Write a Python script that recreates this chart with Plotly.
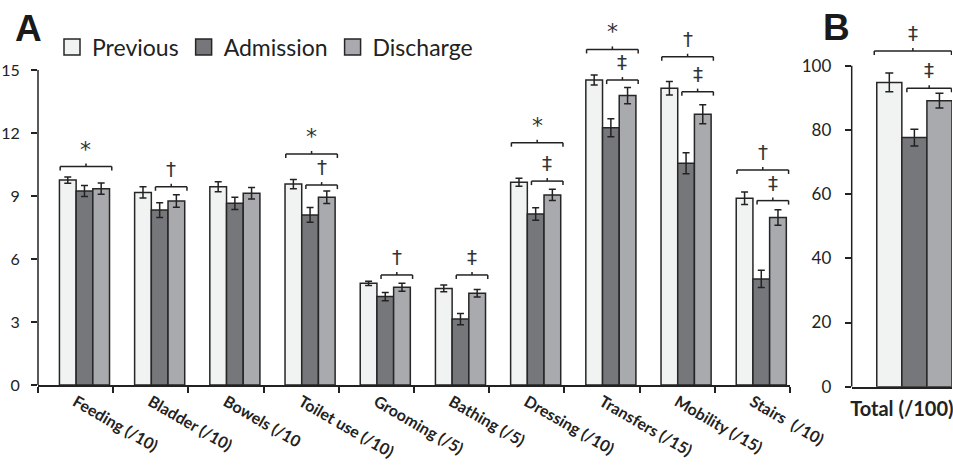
import plotly.graph_objects as go

# ---------------- data ----------------
categories = ["Feeding (/10)", "Bladder (/10)", "Bowels (/10", "Toilet use (/10)", "Grooming (/5)",
              "Bathing (/5)", "Dressing (/10)", "Transfers (/15)", "Mobility (/15)", "Stairs\u00a0 (/10)"]
previous = [9.76, 9.17, 9.44, 9.57, 4.84, 4.60, 9.65, 14.52, 14.13, 8.89]
previous_err = [0.15, 0.27, 0.24, 0.22, 0.10, 0.16, 0.19, 0.24, 0.32, 0.30]
admission = [9.24, 8.33, 8.65, 8.10, 4.21, 3.14, 8.14, 12.25, 10.56, 5.05]
admission_err = [0.26, 0.35, 0.29, 0.35, 0.20, 0.27, 0.30, 0.43, 0.50, 0.41]
discharge = [9.35, 8.76, 9.13, 8.94, 4.65, 4.37, 9.05, 13.78, 12.89, 7.98]
discharge_err = [0.27, 0.30, 0.27, 0.30, 0.19, 0.18, 0.27, 0.39, 0.45, 0.37]

total_cat = ["Total (/100)"]
total_previous = [94.8]
total_previous_err = [2.9]
total_admission = [77.6]
total_admission_err = [2.6]
total_discharge = [89.1]
total_discharge_err = [2.3]

# significance brackets (panel A)
sig_cat = [0, 1, 3, 3, 4, 5, 6, 6, 7, 7, 8, 8, 9, 9]
sig_kind = ["outer", "inner", "outer", "inner", "inner", "inner", "outer", "inner",
            "outer", "inner", "outer", "inner", "outer", "inner"]
sig_level = [10.40, 9.44, 11.0, 9.52, 5.24, 5.24, 11.54, 9.71, 15.98, 14.52, 15.63, 13.97, 10.24, 8.78]
sig_symbol = ["*", "†", "*", "†", "†", "‡", "*", "‡", "*", "‡", "†", "‡", "†", "‡"]
# significance brackets (panel B)
sigB_kind = ["outer", "inner"]
sigB_level = [104.6, 93.0]
sigB_symbol = ["‡", "‡"]

series_names = ["Previous", "Admission", "Discharge"]
colors = ["#f1f3f2", "#76777b", "#a9aaae"]
edge = "#262626"

# ---------------- geometry / style ----------------
W, H = 953, 465
A_x0, A_x1 = 38, 790
A_y0px, A_pxu = 385, 21.0        # pixel of zero, pixels per unit
A_top = 17
B_x0, B_x1 = 851.7, 952
B_y0px, B_pxu = 386.7, 3.21
B_top = 110

A_w = 0.222
A_off = [-0.215, 0.007, 0.229]
B_w = 0.25
B_off = [-0.25, 0.0, 0.25]

FONT = "Lato, 'Open Sans', sans-serif"

fig = go.Figure()

A_vals = [(previous, previous_err), (admission, admission_err), (discharge, discharge_err)]
B_vals = [(total_previous, total_previous_err), (total_admission, total_admission_err),
          (total_discharge, total_discharge_err)]

for i in range(3):
    vals, errs = A_vals[i]
    fig.add_trace(go.Bar(
        x=categories, y=vals, name=series_names[i], showlegend=False,
        width=A_w, offset=A_off[i],
        marker=dict(color=colors[i], line=dict(color=edge, width=1.5)),
        error_y=dict(type="data", array=errs, color="#222", thickness=1.5, width=3.5),
        xaxis="x", yaxis="y"))
    vals, errs = B_vals[i]
    fig.add_trace(go.Bar(
        x=total_cat, y=vals, name=series_names[i], showlegend=False,
        width=B_w, offset=B_off[i],
        marker=dict(color=colors[i], line=dict(color=edge, width=1.5)),
        error_y=dict(type="data", array=errs, color="#222", thickness=1.5, width=4),
        xaxis="x2", yaxis="y2"))

# legend entries
for i in range(3):
    fig.add_trace(go.Scatter(
        x=[None], y=[None], mode="markers", name=series_names[i],
        marker=dict(symbol="square", size=16, color=colors[i], line=dict(color=edge, width=1.5)),
        xaxis="x", yaxis="y"))

shapes = []
annotations = []


def bracket(xref, yref, xa, xb, level, down, up, symbol, size, yshift):
    xm = (xa + xb) / 2
    ln = dict(color="#222", width=1.5)
    shapes.append(dict(type="line", xref=xref, yref=yref, x0=xa, x1=xb, y0=level, y1=level, line=ln))
    shapes.append(dict(type="line", xref=xref, yref=yref, x0=xa, x1=xa, y0=level, y1=level - down, line=ln))
    shapes.append(dict(type="line", xref=xref, yref=yref, x0=xb, x1=xb, y0=level, y1=level - down, line=ln))
    shapes.append(dict(type="line", xref=xref, yref=yref, x0=xm, x1=xm, y0=level, y1=level + up, line=ln))
    annotations.append(dict(xref=xref, yref=yref, x=xm, y=level + up, text=symbol, showarrow=False,
                            xanchor="center", yanchor="bottom", yshift=yshift,
                            font=dict(family="DejaVu Sans, " + FONT, size=size, color="#333")))


for c, k, lv, s in zip(sig_cat, sig_kind, sig_level, sig_symbol):
    xa = c + (A_off[0] + 0.01 if k == "outer" else A_off[1] + 0.055)
    xb = c + A_off[2] + A_w + 0.03
    if s == "*":
        bracket("x", "y", xa, xb, lv, 4 / A_pxu, 3 / A_pxu, s, 22, 0)
    else:
        bracket("x", "y", xa, xb, lv, 4 / A_pxu, 3 / A_pxu, s, 20, 1)

for k, lv, s in zip(sigB_kind, sigB_level, sigB_symbol):
    xa = (B_off[0] - 0.025) if k == "outer" else (B_off[1] + 0.05)
    xb = B_off[2] + B_w - 0.005
    bracket("x2", "y2", xa, xb, lv, 4 / B_pxu, 3 / B_pxu, s, 20, 1)

# y axis lines (stop at top tick)
shapes.append(dict(type="line", xref="x domain", yref="y", x0=0, x1=0, y0=0, y1=15,
                   line=dict(color="#222", width=1.5)))
shapes.append(dict(type="line", xref="x2 domain", yref="y2", x0=0, x1=0, y0=0, y1=100,
                   line=dict(color="#222", width=1.5)))

# panel letters
annotations.append(dict(xref="paper", yref="paper", x=13 / W, y=1 - 28.5 / H, text="<b>A</b>",
                        showarrow=False, xanchor="left", yanchor="middle",
                        font=dict(family="Liberation Sans, Arial", size=37, color="#1a1a1a")))
annotations.append(dict(xref="paper", yref="paper", x=821 / W, y=1 - 28 / H, text="<b>B</b>",
                        showarrow=False, xanchor="left", yanchor="middle",
                        font=dict(family="Liberation Sans, Arial", size=37, color="#1a1a1a")))

fig.update_layout(
    width=W, height=H, autosize=False,
    margin=dict(l=0, r=0, t=0, b=0, pad=0, autoexpand=False),
    paper_bgcolor="white", plot_bgcolor="white",
    barmode="overlay",
    font=dict(family=FONT, color="#222"),
    showlegend=True,
    legend=dict(orientation="h", x=52 / W, y=1 - 47 / H, xanchor="left", yanchor="middle",
                font=dict(family=FONT, size=23, color="#222"), bgcolor="rgba(0,0,0,0)",
                itemclick=False, tracegroupgap=0),
    xaxis=dict(domain=[A_x0 / W, A_x1 / W], type="category", categoryorder="array",
               categoryarray=categories, range=[-0.5, 9.5], anchor="y", automargin=False,
               showline=True, linecolor="#222", linewidth=1.5, showgrid=False,
               ticks="outside", tickson="boundaries", ticklen=6, tickcolor="#222", tickwidth=1.5,
               tickangle=30, tickfont=dict(family=FONT, size=16, color="#222", weight="bold")),
    yaxis=dict(domain=[1 - A_y0px / H, 1 - (A_y0px - A_top * A_pxu) / H], range=[0, A_top],
               anchor="x", automargin=False, tickvals=[0, 3, 6, 9, 12, 15], ticks="outside", ticklen=6,
               tickcolor="#222", tickwidth=1.5, showline=False, showgrid=False, zeroline=False,
               ticklabelstandoff=8, tickfont=dict(family=FONT, size=16, color="#222")),
    xaxis2=dict(domain=[B_x0 / W, B_x1 / W], type="category", range=[-0.5, 0.5], anchor="y2",
                automargin=False, ticklabelstandoff=4,
                showline=True, linecolor="#222", linewidth=1.5, showgrid=False, ticks="",
                tickangle=0, tickfont=dict(family=FONT, size=20, color="#222", weight="bold")),
    yaxis2=dict(domain=[1 - B_y0px / H, 1 - (B_y0px - B_top * B_pxu) / H], range=[0, B_top],
                anchor="x2", automargin=False, tickvals=[0, 20, 40, 60, 80, 100], ticks="outside",
                ticklen=6, tickcolor="#222", tickwidth=1.5, showline=False, showgrid=False,
                zeroline=False,
                ticklabelstandoff=10, tickfont=dict(family=FONT, size=17, color="#222")),
    shapes=shapes,
    annotations=annotations,
)

fig.write_html("out.html", config={"displayModeBar": False},
               post_script="document.body.style.margin='0';document.body.style.overflow='hidden';")
